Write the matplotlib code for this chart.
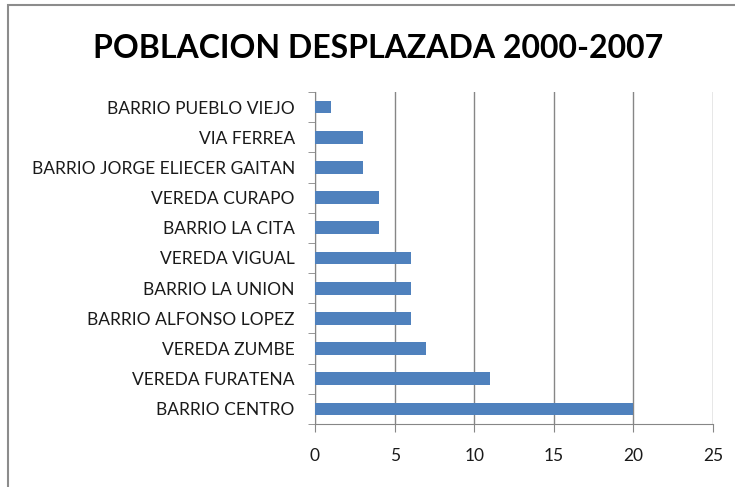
import matplotlib
matplotlib.use("Agg")
import matplotlib.pyplot as plt
from matplotlib.patches import Rectangle

# data, top to bottom as in the chart
barrios = ["BARRIO PUEBLO VIEJO", "VIA FERREA", "BARRIO JORGE ELIECER GAITAN",
           "VEREDA CURAPO", "BARRIO LA CITA", "VEREDA VIGUAL", "BARRIO LA UNION",
           "BARRIO ALFONSO LOPEZ", "VEREDA ZUMBE", "VEREDA FURATENA", "BARRIO CENTRO"]
personas = [1, 3, 3, 4, 4, 6, 6, 6, 7, 11, 20]
xticks = [0, 5, 10, 15, 20, 25]

plt.rcParams['font.family'] = ['Lato', 'DejaVu Sans']

fig = plt.figure(figsize=(7.35, 4.87), dpi=100)
ax = fig.add_axes([315/735, 1 - 424/487, (713-315)/735, (424-92)/487])

# outer chart frame (left and top edges visible)
fig.patches.append(Rectangle((8/735, -0.1), 1.2, 1 - 5/487 + 0.1, transform=fig.transFigure,
                             fill=False, edgecolor="#8c8c8c", linewidth=1.5))

ypos = list(range(len(barrios)))
ax.barh(ypos, personas, height=0.42, color="#4F81BD", zorder=3)
ax.set_ylim(len(barrios) - 0.5, -0.5)
ax.set_xlim(0, 25)
ax.set_xticks(xticks)
ax.set_yticks(ypos)
ax.set_yticklabels(barrios)
ax.set_yticks([i - 0.5 for i in range(len(barrios) + 1)], minor=True)
ax.tick_params(axis="y", which="major", length=0, pad=14.5, labelsize=12.5, labelcolor="#1a1a1a")
ax.tick_params(axis="y", which="minor", length=5, color="#868686")
ax.tick_params(axis="x", length=6, color="#868686", pad=11, labelsize=12.5, labelcolor="#1a1a1a")
ax.grid(axis="x", color="#868686", linewidth=1, zorder=0)

for s in ["top", "right"]:
    ax.spines[s].set_visible(False)
ax.spines["left"].set_color("#868686")
ax.spines["bottom"].set_color("#868686")

fig.text(378/735, 1 - 49/487, "POBLACION DESPLAZADA 2000-2007", ha="center", va="center",
         fontsize=23, fontweight="bold", color="black")

fig.savefig("out.png", dpi=100)
